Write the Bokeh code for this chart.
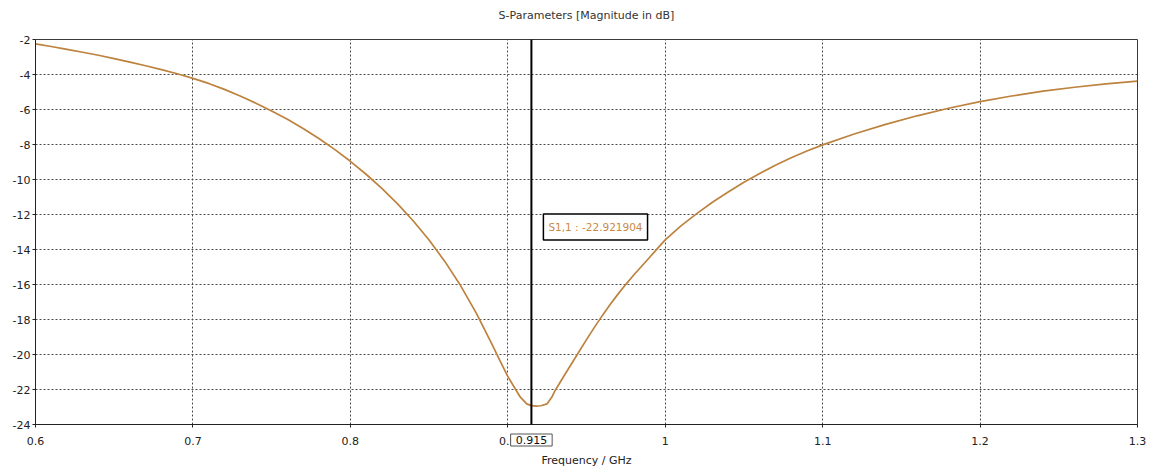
from bokeh.plotting import figure
from bokeh.models import Range1d, FixedTicker, Span, Label
from bokeh.embed import file_html
from bokeh.resources import INLINE

# S11 magnitude (dB) against frequency (GHz)
freq_ghz = [0.600, 0.610, 0.620, 0.630, 0.640, 0.650, 0.660, 0.670, 0.680, 0.690,
            0.700, 0.710, 0.720, 0.730, 0.740, 0.750, 0.760, 0.770, 0.780, 0.790,
            0.800, 0.810, 0.820, 0.830, 0.840, 0.850, 0.860, 0.870, 0.880, 0.890,
            0.895, 0.900, 0.905, 0.908, 0.912, 0.915, 0.918, 0.921, 0.925, 0.928,
            0.930, 0.935, 0.940, 0.945, 0.950, 0.955, 0.960, 0.965, 0.970, 0.975,
            0.980, 0.985, 0.990, 0.995, 1.000, 1.010, 1.020, 1.030, 1.040, 1.050,
            1.060, 1.070, 1.080, 1.090, 1.100, 1.120, 1.140, 1.160, 1.180, 1.200,
            1.220, 1.240, 1.260, 1.280, 1.300]
s11_db = [-2.25, -2.40, -2.56, -2.73, -2.90, -3.09, -3.29, -3.50, -3.72, -3.96,
          -4.22, -4.51, -4.85, -5.23, -5.64, -6.08, -6.56, -7.09, -7.66, -8.28,
          -8.96, -9.70, -10.51, -11.39, -12.37, -13.46, -14.68, -16.06, -17.64, -19.42,
          -20.35, -21.25, -22.00, -22.44, -22.82, -22.92, -22.95, -22.93, -22.82, -22.43,
          -22.07, -21.33, -20.60, -19.87, -19.15, -18.45, -17.78, -17.14, -16.55, -15.99,
          -15.46, -14.96, -14.46, -13.95, -13.45, -12.65, -11.95, -11.30, -10.71, -10.16,
          -9.66, -9.19, -8.76, -8.37, -8.02, -7.40, -6.85, -6.36, -5.93, -5.55,
          -5.23, -4.95, -4.73, -4.54, -4.38]

marker_freq = 0.915
marker_value = -22.921904

x_ticks = [0.6, 0.7, 0.8, 0.9, 1.0, 1.1, 1.2, 1.3]
x_tick_labels = ["0.6", "0.7", "0.8", "0.9", "1", "1.1", "1.2", "1.3"]
y_ticks = [-2, -4, -6, -8, -10, -12, -14, -16, -18, -20, -22, -24]
y_tick_labels = ["-2", "-4", "-6", "-8", "-10", "-12", "-14", "-16", "-18", "-20", "-22", "-24"]

FONT = "DejaVu Sans"
CURVE = "#bd823e"
X_MIN, X_MAX = 0.6, 1.3
Y_MIN, Y_MAX = -24, -2

p = figure(width=1152, height=472, output_backend="svg", toolbar_location=None,
           x_range=Range1d(X_MIN, X_MAX), y_range=Range1d(Y_MIN, Y_MAX),
           min_border_left=35, min_border_right=15, min_border_top=39,
           min_border_bottom=48)

p.background_fill_color = "white"
p.border_fill_color = "white"
p.outline_line_color = "#3a3a3a"
p.outline_line_width = 1

# axes
for ax in (p.xaxis[0], p.yaxis[0]):
    ax.axis_line_color = "#222222"
    ax.axis_line_width = 1
    ax.major_tick_in = 0
    ax.major_tick_out = 3
    ax.major_tick_line_color = "#222222"
    ax.minor_tick_line_color = None
    ax.major_label_text_font = FONT
    ax.major_label_text_font_size = "11px"
    ax.major_label_text_color = "#222222"

p.xaxis.ticker = FixedTicker(ticks=x_ticks)
p.xaxis.major_label_overrides = dict(zip(x_ticks, x_tick_labels))
p.xaxis.major_label_standoff = 9
p.xaxis.axis_label = "Frequency / GHz"
p.xaxis.axis_label_text_font = FONT
p.xaxis.axis_label_text_font_size = "11px"
p.xaxis.axis_label_text_font_style = "normal"
p.xaxis.axis_label_text_color = "#222222"
p.xaxis.axis_label_standoff = 6

p.yaxis.ticker = FixedTicker(ticks=y_ticks)
p.yaxis.major_label_overrides = dict(zip(y_ticks, y_tick_labels))
p.yaxis.major_label_standoff = 2

# dotted grid
for g in (p.xgrid[0], p.ygrid[0]):
    g.grid_line_color = "#4a4a4a"
    g.grid_line_dash = "2 2"
    g.grid_line_width = 1

p.line(freq_ghz, s11_db, line_color=CURVE, line_width=1.7)

# frequency marker
p.add_layout(Span(location=marker_freq, dimension="height",
                  line_color="black", line_width=2))

p.add_layout(Label(x=marker_freq, y=-12.71, x_offset=12, text=f"S1,1 : {marker_value:.6f}",
                   text_font=FONT, text_font_size="10.5px", text_color="#c98a45",
                   text_align="left", text_baseline="middle",
                   background_fill_color="white", border_line_color="black",
                   border_line_width=1.5, padding=(5, 7)))

# chart heading, kept in the top panel and centred over the frame
p.add_layout(Label(x=(X_MIN + X_MAX) / 2, y=Y_MAX, y_offset=24,
                   text="S-Parameters [Magnitude in dB]",
                   text_font=FONT, text_font_size="11px", text_color="#333333",
                   text_align="center", text_baseline="middle"), "above")

# marker readout over the frequency axis (side panel, so it is not clipped)
p.add_layout(Label(x=marker_freq, y=Y_MIN, y_offset=-15.5, level="overlay",
                   text=f"{marker_freq:g}",
                   text_font=FONT, text_font_size="11px", text_color="#111111",
                   text_align="center", text_baseline="middle",
                   background_fill_color="white", border_line_color="#555555",
                   border_line_width=1, padding=(5, 2)), "above")

open("out.html", "w").write(file_html(p, INLINE))
